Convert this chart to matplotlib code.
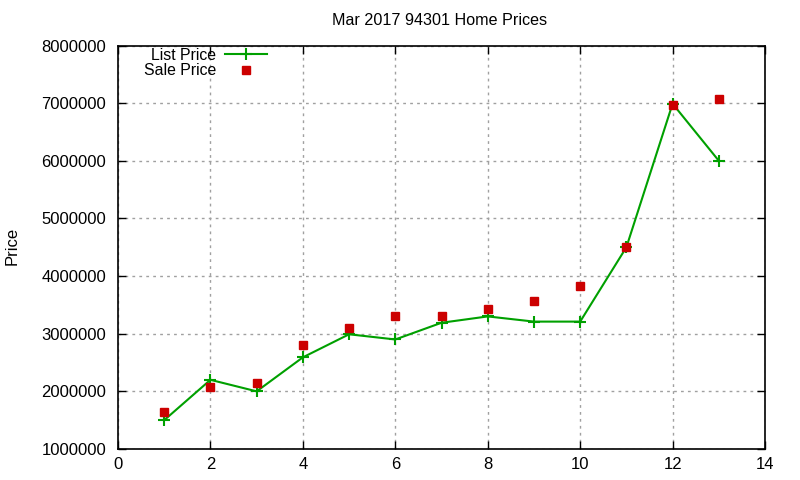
import matplotlib
matplotlib.use("Agg")
import matplotlib.pyplot as plt
from matplotlib.ticker import MultipleLocator, FuncFormatter

plt.rcParams['font.family'] = ['Liberation Sans', 'DejaVu Sans']

x = [1, 2, 3, 4, 5, 6, 7, 8, 9, 10, 11, 12, 13]
list_price = [1500000, 2200000, 2000000, 2590000, 2990000, 2900000, 3190000,
              3300000, 3210000, 3210000, 4500000, 6990000, 6000000]
sale_price = [1640000, 2070000, 2140000, 2800000, 3100000, 3310000, 3310000,
              3430000, 3560000, 3820000, 4500000, 6960000, 7070000]
title = "Mar 2017 94301 Home Prices"

fig = plt.figure(figsize=(8, 4.8), dpi=100)
ax = fig.add_axes([0.1475, 0.0646, 0.8088, 0.8406])

ax.plot(x, list_price, color='#00a000', lw=1.5, marker='+', ms=8, mew=1.5,
        label='List Price', zorder=3)
ax.plot(x, sale_price, color='#cc0000', lw=0, marker='s', ms=6,
        label='Sale Price', zorder=4)

ax.set_xlim(0, 14)
ax.set_ylim(1000000, 8000000)
ax.xaxis.set_major_locator(MultipleLocator(2))
ax.yaxis.set_major_locator(MultipleLocator(1000000))
ax.yaxis.set_major_formatter(FuncFormatter(lambda v, p: f"{int(round(v))}"))
ax.tick_params(direction='in', top=True, right=True, length=6, width=1,
               labelsize=12, color='black')
ax.tick_params(axis='y', pad=8.5)
ax.tick_params(axis='x', pad=6)
ax.grid(True, color='#a0a0a0', linestyle=(0, (2, 3)), lw=1)
for s in ax.spines.values():
    s.set_linewidth(1.2)

fig.text(0.015, 1 - 246 / 480, 'Price', rotation=90, ha='center', va='center',
         fontsize=12)
fig.text(0.55, 0.957, title, ha='center', va='center', fontsize=11.6)

ax.legend(loc='upper left', markerfirst=False, frameon=False, fontsize=11.4,
          handlelength=2.6, handletextpad=0.6, labelspacing=0.02,
          borderaxespad=0.2, bbox_to_anchor=(0.025, 1.018))
leg = ax.get_legend()
for t in leg.get_texts():
    t.set_ha('right')

fig.savefig('out.png', dpi=100)
